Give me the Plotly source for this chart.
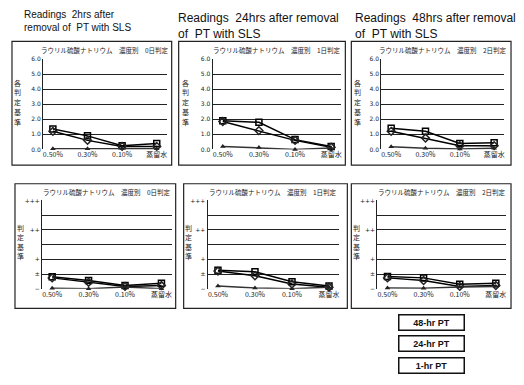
import plotly.graph_objects as go

categories = ["0.50%", "0.30%", "0.10%", "蒸留水"]
series_names = ["48-hr PT", "24-hr PT", "1-hr PT"]

# top row (score 0-6)
p2h_48 = [1.35, 0.9, 0.25, 0.4]
p2h_24 = [1.2, 0.6, 0.2, 0.2]
p2h_1 = [0.05, 0.05, 0.1, 0.05]

p24h_48 = [1.9, 1.8, 0.65, 0.2]
p24h_24 = [1.85, 1.25, 0.6, 0.15]
p24h_1 = [0.2, 0.12, 0.0, 0.1]

p48h_48 = [1.4, 1.2, 0.4, 0.45]
p48h_24 = [1.2, 0.75, 0.25, 0.25]
p48h_1 = [0.17, 0.07, 0.02, 0.07]

# bottom row (judgement - to +++)
b1_48 = [0.41, 0.28, 0.11, 0.19]
b1_24 = [0.37, 0.22, 0.08, 0.11]
b1_1 = [0.02, 0.0, 0.06, 0.0]

b2_48 = [0.63, 0.58, 0.24, 0.09]
b2_24 = [0.6, 0.44, 0.16, 0.05]
b2_1 = [0.09, 0.03, 0.0, 0.05]

b3_48 = [0.42, 0.37, 0.15, 0.19]
b3_24 = [0.37, 0.28, 0.08, 0.11]
b3_1 = [0.03, 0.02, 0.06, 0.08]

top_ticks = [0, 1, 2, 3, 4, 5, 6]
top_ticktext = ["0.0", "1.0", "2.0", "3.0", "4.0", "5.0", "6.0"]
bot_ticks = [0, 0.5, 1, 1.5, 2, 2.5, 3]
bot_ticktext = ["−", "±", "+", "", "++", "", "+++"]

panel_titles = ["ラウリル硫酸ナトリウム　濃度別　0日判定",
                "ラウリル硫酸ナトリウム　濃度別　1日判定",
                "ラウリル硫酸ナトリウム　濃度別　2日判定",
                "ラウリル硫酸ナトリウム　濃度別　0日判定",
                "ラウリル硫酸ナトリウム　濃度別　1日判定",
                "ラウリル硫酸ナトリウム　濃度別　2日判定"]
heading_texts = ["Readings  2hrs after<br>removal of  PT with SLS",
                 "Readings  24hrs after removal<br>of  PT with SLS",
                 "Readings  48hrs after removal<br>of  PT with SLS"]
top_ylabel = "各判定基準"
bot_ylabel = "判定基準"

# page has an 8px body margin; work in page pixels
OFF = 8
W, H = 524 - OFF, 385 - OFF
def fx(px): return (px - OFF) / W
def fy(py): return 1 - (py - OFF) / H

panels = [
    dict(data=[p2h_48, p2h_24, p2h_1], plot=(43, 167, 56, 148), frame=(12, 172, 38, 164), top=True, ylab_x=18),
    dict(data=[p24h_48, p24h_24, p24h_1], plot=(213, 342, 56, 148), frame=(179, 346, 38, 164), top=True, ylab_x=186),
    dict(data=[p48h_48, p48h_24, p48h_1], plot=(382, 505, 56, 148), frame=(352, 512, 38, 164), top=True, ylab_x=358),
    dict(data=[b1_48, b1_24, b1_1], plot=(42, 172, 200, 290), frame=(15, 176, 183, 310), top=False, ylab_x=21),
    dict(data=[b2_48, b2_24, b2_1], plot=(208, 340, 200, 290), frame=(184, 348, 183, 310), top=False, ylab_x=189),
    dict(data=[b3_48, b3_24, b3_1], plot=(378, 507, 200, 290), frame=(352, 512, 183, 310), top=False, ylab_x=357),
]

markers = [dict(symbol="square-open", size=6, color="black", line=dict(width=1.5)),
           dict(symbol="diamond-open", size=6, color="#222", line=dict(width=1.5)),
           dict(symbol="triangle-up", size=5, color="#222")]

fig = go.Figure()
shapes = []
annotations = []
font_cjk = "Noto Sans CJK JP"

for i, p in enumerate(panels):
    n = i + 1
    xa = "x" if n == 1 else f"x{n}"
    ya = "y" if n == 1 else f"y{n}"
    for s, (vals, name) in enumerate(zip(p["data"], series_names)):
        fig.add_trace(go.Scatter(x=categories, y=vals, name=name, mode="lines+markers",
                                 line=dict(color="black" if s < 2 else "#333", width=1.5),
                                 marker=markers[s], showlegend=False, cliponaxis=False,
                                 xaxis=xa, yaxis=ya))
    x0, x1, y0, y1 = p["plot"]
    xkey = "xaxis" if n == 1 else f"xaxis{n}"
    ykey = "yaxis" if n == 1 else f"yaxis{n}"
    fig.layout[xkey] = dict(domain=[fx(x0), fx(x1)], anchor=ya, type="category",
                            showgrid=False, showline=False, ticks="",
                            tickfont=dict(size=7, family=font_cjk, color="#222"))
    if p["top"]:
        fig.layout[ykey] = dict(domain=[fy(y1), fy(y0)], anchor=xa, range=[0, 6],
                                tickvals=top_ticks, ticktext=top_ticktext,
                                showgrid=True, gridcolor="#222", gridwidth=1,
                                zeroline=False, showline=True, linecolor="#222", linewidth=1,
                                tickfont=dict(size=6, family="DejaVu Sans", color="#222"), ticklen=0)
        ylab = top_ylabel
        ystart, ystep = 80, 10
    else:
        fig.layout[ykey] = dict(domain=[fy(y1), fy(y0)], anchor=xa, range=[0, 3],
                                tickvals=bot_ticks, ticktext=bot_ticktext,
                                showgrid=True, gridcolor="#222", gridwidth=1,
                                zeroline=False, showline=True, linecolor="#222", linewidth=1,
                                tickfont=dict(size=6, family="DejaVu Sans", color="#222"), ticklen=0)
        ylab = bot_ylabel
        ystart, ystep = 228, 9.7
    fx0, fx1, fy0, fy1 = p["frame"]
    shapes.append(dict(type="rect", xref="paper", yref="paper", x0=fx(fx0), x1=fx(fx1),
                       y0=fy(fy1), y1=fy(fy0), line=dict(color="#222", width=1.2)))
    annotations.append(dict(text=panel_titles[i], xref="paper", yref="paper",
                            x=fx((x0 + x1) / 2), y=fy(y0 - 9), showarrow=False,
                            font=dict(size=6.5, family=font_cjk, color="#222"),
                            xanchor="center", yanchor="middle"))
    for k, ch in enumerate(ylab):
        annotations.append(dict(text=ch, xref="paper", yref="paper", x=fx(p["ylab_x"]),
                                y=fy(ystart + k * ystep), showarrow=False,
                                font=dict(size=7, family=font_cjk, color="#222"),
                                xanchor="center", yanchor="middle", borderpad=0))

heading_pos = [(22, 3, 10), (176, 5, 12), (354, 5, 12)]
for t, (hx, hy, hs) in zip(heading_texts, heading_pos):
    annotations.append(dict(text=t, xref="paper", yref="paper", x=fx(hx), y=fy(hy),
                            showarrow=False, align="left", xanchor="left", yanchor="top",
                            font=dict(size=hs, family="Liberation Sans Narrow, Liberation Sans", color="#111")))

legend_y = [324, 346, 368]
for name, ly in zip(series_names, legend_y):
    annotations.append(dict(text="<b>" + name + "</b>", xref="paper", yref="paper",
                            x=fx(432), y=fy(ly), showarrow=False, xanchor="center", yanchor="middle",
                            bordercolor="#111", borderwidth=1.5, borderpad=2, width=60,
                            font=dict(size=9, family="Liberation Sans", color="#111")))

fig.update_layout(width=W, height=H, margin=dict(l=0, r=0, t=0, b=0),
                  paper_bgcolor="white", plot_bgcolor="white",
                  shapes=shapes, annotations=annotations, showlegend=False)

fig.write_html("out.html")
